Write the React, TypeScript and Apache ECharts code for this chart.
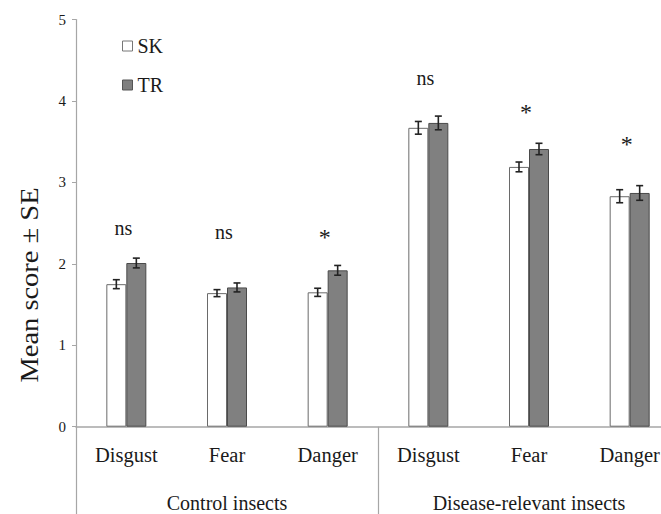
import React, { useEffect, useRef } from "react";
import * as echarts from "echarts";

const categories = ["Disgust", "Fear", "Danger", "Disgust", "Fear", "Danger"];
const groups = ["Control insects", "Disease-relevant insects"];
const seriesNames = ["SK", "TR"];
const skMean = [1.75, 1.64, 1.65, 3.67, 3.19, 2.83];
const trMean = [2.01, 1.71, 1.92, 3.73, 3.41, 2.87];
const skSE = [0.055, 0.043, 0.05, 0.078, 0.06, 0.08];
const trSE = [0.06, 0.055, 0.06, 0.084, 0.07, 0.09];
const sigLabels = ["ns", "ns", "*", "ns", "*", "*"];
const sigY = [2.44, 2.39, 2.35, 4.28, 3.89, 3.5];
const yTicks = [0, 1, 2, 3, 4, 5];
const yTitle = "Mean score ± SE";

const FONT = "Liberation Serif, Times New Roman, serif";
const TXT = "#1a1a1a";
const AXIS = "#a6a6a6";

function errSeries(means: number[], ses: number[], offset: number) {
  return {
    type: "custom",
    xAxisIndex: 0,
    yAxisIndex: 0,
    z: 5,
    silent: true,
    encode: { x: 0, y: [1, 2] },
    data: means.map((m, i) => [i, m - ses[i], m + ses[i]]),
    renderItem: (params: any, api: any) => {
      const lo = api.coord([api.value(0), api.value(1)]);
      const hi = api.coord([api.value(0), api.value(2)]);
      const x = lo[0] + offset;
      const hw = 3.5;
      const st = { stroke: "#222", lineWidth: 1.6 };
      return {
        type: "group",
        children: [
          { type: "line", shape: { x1: x, y1: lo[1], x2: x, y2: hi[1] }, style: st },
          { type: "line", shape: { x1: x - hw, y1: hi[1], x2: x + hw, y2: hi[1] }, style: st },
          { type: "line", shape: { x1: x - hw, y1: lo[1], x2: x + hw, y2: lo[1] }, style: st },
        ],
      };
    },
  };
}

export default function App() {
  const ref = useRef<HTMLDivElement>(null);
  useEffect(() => {
    document.body.style.margin = "0";
    const chart = echarts.init(ref.current!, null, { renderer: "svg" });
    chart.setOption({
      animation: false,
      backgroundColor: "#fff",
      textStyle: { fontFamily: FONT, color: TXT },
      grid: {
        left: 76,
        top: 19.5,
        width: 604,
        height: 407.2,
        containLabel: false,
        outerBoundsMode: "none",
      },
      legend: {
        orient: "vertical",
        left: 117,
        top: 31,
        itemWidth: 10,
        itemHeight: 10,
        itemGap: 19,
        icon: "rect",
        textStyle: { fontFamily: FONT, fontSize: 20, color: TXT, lineHeight: 20 },
        data: [
          {
            name: seriesNames[0],
            itemStyle: { color: "#fff", borderColor: "#777", borderWidth: 1 },
            textStyle: { fontFamily: FONT, fontSize: 20, color: TXT },
          },
          {
            name: seriesNames[1],
            itemStyle: { color: "#7f7f7f", borderColor: "#555", borderWidth: 1 },
            textStyle: { fontFamily: FONT, fontSize: 20, color: TXT },
          },
        ],
      },
      graphic: [
        {
          type: "text",
          x: 30,
          y: 285,
          rotation: Math.PI / 2,
          scaleY: 0.86,
          style: {
            text: yTitle,
            fontFamily: FONT,
            fontSize: 28.5,
            fill: TXT,
            align: "center",
            verticalAlign: "middle",
          },
        },
      ],
      xAxis: [
        {
          type: "category",
          data: categories,
          position: "bottom",
          axisLine: { show: true, lineStyle: { color: AXIS, width: 1.5 } },
          axisTick: { show: false },
          axisLabel: { interval: 0, margin: 18, fontFamily: FONT, fontSize: 20.5, color: TXT },
        },
        {
          type: "category",
          data: groups,
          position: "bottom",
          axisLine: { show: false },
          axisTick: { show: true, length: 100, lineStyle: { color: AXIS, width: 1.2 } },
          axisLabel: {
            interval: 0,
            margin: 66,
            fontFamily: FONT,
            fontSize: 20,
            lineHeight: 20,
            color: TXT,
          },
        },
      ],
      yAxis: {
        type: "value",
        min: yTicks[0],
        max: yTicks[yTicks.length - 1],
        interval: 1,
        axisLine: { show: true, lineStyle: { color: AXIS, width: 1.2 } },
        axisTick: { show: true, length: 4, lineStyle: { color: AXIS } },
        splitLine: { show: false },
        axisLabel: { fontFamily: FONT, fontSize: 15, color: TXT, margin: 10 },
      },
      series: [
        {
          name: seriesNames[0],
          type: "bar",
          data: skMean,
          barWidth: 20,
          barGap: "0%",
          itemStyle: { color: "#fff", borderColor: "#6a6a6a", borderWidth: 1 },
        },
        {
          name: seriesNames[1],
          type: "bar",
          data: trMean,
          barWidth: 20,
          barGap: "0%",
          itemStyle: { color: "#808080", borderColor: "#4a4a4a", borderWidth: 1 },
        },
        errSeries(skMean, skSE, -10),
        errSeries(trMean, trSE, 10),
        {
          type: "custom",
          xAxisIndex: 0,
          yAxisIndex: 0,
          silent: true,
          z: 6,
          encode: { x: 0, y: 1 },
          data: sigY.map((v, i) => [i, v]),
          renderItem: (params: any, api: any) => {
            const p = api.coord([api.value(0), api.value(1)]);
            const lab = sigLabels[params.dataIndex];
            const isStar = lab === "*";
            return {
              type: "text",
              x: p[0] - 3,
              y: p[1] + (isStar ? 2 : 0),
              style: {
                text: lab,
                fontFamily: FONT,
                fontSize: isStar ? 24 : 20,
                fill: TXT,
                align: "center",
                verticalAlign: "middle",
              },
            };
          },
        },
      ],
    });
    return () => chart.dispose();
  }, []);
  return (
    <div style={{ width: 661, height: 514, overflow: "hidden" }}>
      <div ref={ref} style={{ width: 700, height: 514 }} />
    </div>
  );
}
